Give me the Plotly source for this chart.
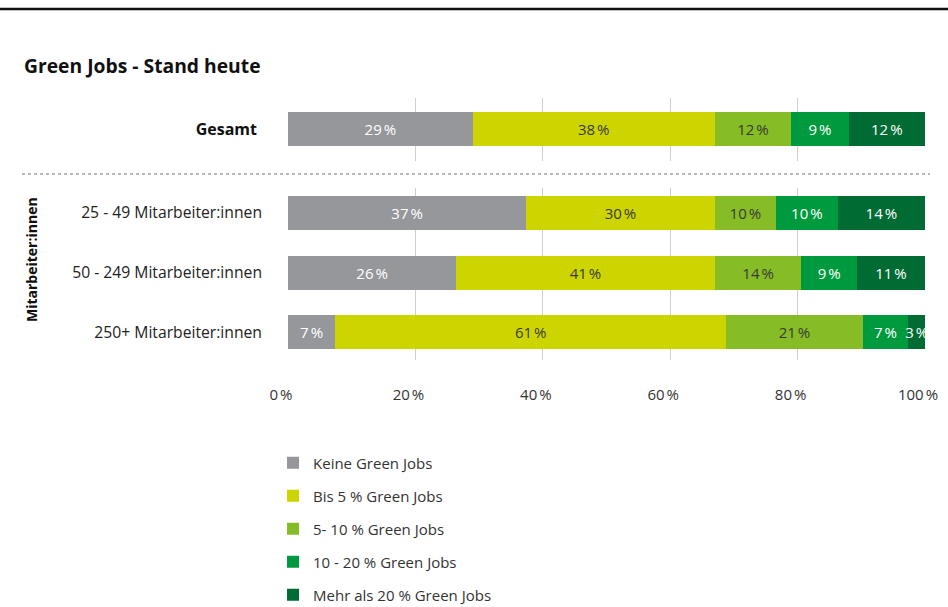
import plotly.graph_objects as go
from plotly.subplots import make_subplots

# Data
series = ["Keine Green Jobs", "Bis 5 % Green Jobs", "5- 10 % Green Jobs",
          "10 - 20 % Green Jobs", "Mehr als 20 % Green Jobs"]
colors = ["#96979b", "#cdd500", "#86bc25", "#009a3e", "#006b33"]
text_colors = ["#ffffff", "#3a3a3a", "#3a3a3a", "#ffffff", "#ffffff"]

total_label = ["Gesamt"]
total_values = [[29.0], [38.0], [12.0], [9.0], [12.0]]

size_labels = ["25 - 49 Mitarbeiter:innen", "50 - 249 Mitarbeiter:innen", "250+ Mitarbeiter:innen"]
size_values = [
    [37.4, 26.4, 7.4],
    [29.6, 40.6, 61.4],
    [9.6, 13.6, 21.4],
    [9.7, 8.7, 7.2],
    [13.7, 10.7, 2.6],
]

x_ticks = [0, 20, 40, 60, 80, 100]
x_ticktext = ["0\u202f%", "20\u202f%", "40\u202f%", "60\u202f%", "80\u202f%", "100\u202f%"]

FONT = "Open Sans"

fig = make_subplots(rows=2, cols=1, shared_xaxes=True, vertical_spacing=0)

for i, name in enumerate(series):
    common = dict(
        orientation="h",
        name=name,
        marker=dict(color=colors[i], line=dict(width=0)),
        width=0.571,
        textposition="inside",
        insidetextanchor="middle",
        textangle=0,
        texttemplate="%{x:.0f}\u202f%",
        textfont=dict(family=FONT, size=15, color=text_colors[i], weight=500),
        hoverinfo="skip",
        legendgroup=name,
    )
    fig.add_trace(go.Bar(x=total_values[i], y=list(range(len(total_label))),
                         showlegend=True, **common), row=1, col=1)
    fig.add_trace(go.Bar(x=size_values[i], y=list(range(len(size_labels))),
                         showlegend=False, **common), row=2, col=1)

grid = dict(showgrid=True, gridcolor="#cfcfcf", gridwidth=1, zeroline=False,
            range=[0, 100], tickvals=x_ticks, showline=False, fixedrange=True,
            automargin=False)

fig.update_layout(
    barmode="stack",
    width=948, height=607,
    margin=dict(l=288, r=23, t=98, b=247, autoexpand=False),
    paper_bgcolor="white", plot_bgcolor="white",
    font=dict(family=FONT, size=15, color="#333333"),
    uniformtext=dict(minsize=15, mode="show"),
    xaxis=dict(domain=[0, 1], **grid, showticklabels=False, anchor="y"),
    xaxis2=dict(domain=[0, 1], **grid, ticktext=x_ticktext, showticklabels=True,
                ticks="", ticklabelstandoff=24, ticklabelshift=-7, anchor="y2",
                tickfont=dict(family=FONT, size=15, color="#333333")),
    yaxis=dict(domain=[0.7595, 1], range=[0.538, -0.521], tickvals=[0],
               ticktext=["<b>Gesamt</b>"], showgrid=False, zeroline=False, automargin=False,
               ticklabelstandoff=30, tickfont=dict(family=FONT, size=16, color="#111111")),
    yaxis2=dict(domain=[0, 0.6565], range=[2.47, -0.42], tickvals=[0, 1, 2],
                ticktext=size_labels, showgrid=False, zeroline=False, automargin=False,
                ticklabelstandoff=25, tickfont=dict(family=FONT, size=15.7, color="#222222")),
    legend=dict(
        x=-0.0235, y=-0.330, xanchor="left", yanchor="top",
        orientation="v", traceorder="grouped", tracegroupgap=10.5,
        font=dict(family=FONT, size=15, color="#333333"),
        bgcolor="rgba(0,0,0,0)",
    ),
    showlegend=True,
)

# Heading, group label, top rule and dotted separator
fig.add_annotation(text="<b>Green Jobs - Stand heute</b>", xref="paper", yref="paper",
                   x=(22 - 288) / 637, y=(360 - 65) / 262, xanchor="left", yanchor="middle",
                   showarrow=False, font=dict(family=FONT, size=19.3, color="#111111"))
fig.add_annotation(text="<b>Mitarbeiter:innen</b>", xref="paper", yref="paper",
                   x=(31 - 288) / 637, y=(360 - 260) / 262, xanchor="center", yanchor="middle",
                   showarrow=False, textangle=-90,
                   font=dict(family=FONT, size=14, color="#111111"))
fig.add_shape(type="line", xref="paper", yref="paper",
              x0=-288 / 637, x1=(948 - 288) / 637, y0=(360 - 9) / 262, y1=(360 - 9) / 262,
              line=dict(color="#111111", width=2.5))
fig.add_shape(type="line", xref="paper", yref="paper",
              x0=(22 - 288) / 637, x1=(930 - 288) / 637, y0=(360 - 174) / 262, y1=(360 - 174) / 262,
              line=dict(color="#b8b8b8", width=2, dash="dot"))

fig.write_html(
    "out.html",
    post_script="document.documentElement.style.overflow='hidden';"
                "document.body.style.overflow='hidden';document.body.style.margin='0';",
)
